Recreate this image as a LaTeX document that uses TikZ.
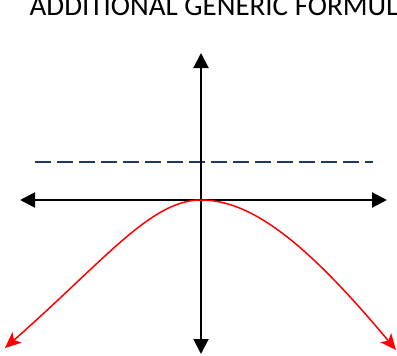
\documentclass[tikz,border=0pt]{standalone}
\usepackage{fontspec}
\setmainfont{Carlito}
\usetikzlibrary{arrows.meta}
\definecolor{navydash}{RGB}{31,56,100}
\begin{document}
\begin{tikzpicture}[x=1pt,y=-1pt,
  axis/.style={line width=2pt,black,{Triangle[length=15pt,width=15pt]}-{Triangle[length=15pt,width=15pt]}},
  curve/.style={line width=1.5pt,red,-{Stealth[length=16pt,width=14pt,inset=4pt]}},
  refline/.style={line width=2pt,navydash,dash pattern=on 16pt off 6pt},
  title/.style={anchor=base west,inner sep=0pt,font=\fontsize{29}{33}\selectfont}]
\useasboundingbox (0,0) rectangle (397,356);
\coordinate (O) at (201,200);
\coordinate (L) at (20,200);
\coordinate (R) at (387,200);
\coordinate (T) at (201,53);
\coordinate (B) at (201,354);
\coordinate (D1) at (35,162);
\coordinate (D2) at (373,162);
\coordinate (PL) at (5,348);
\coordinate (PR) at (396,350);
\node[title] (ttl) at (29.5,15.5) {ADDITIONAL GENERIC FORMUL};
\draw[refline] (D1) -- (D2);
\draw[axis] (L) -- (R);
\draw[axis] (T) -- (B);
\draw[curve] (O) .. controls (151,200) and (105,260) .. (PL);
\draw[curve] (O) .. controls (251,200) and (306,242) .. (PR);
\end{tikzpicture}
\end{document}
